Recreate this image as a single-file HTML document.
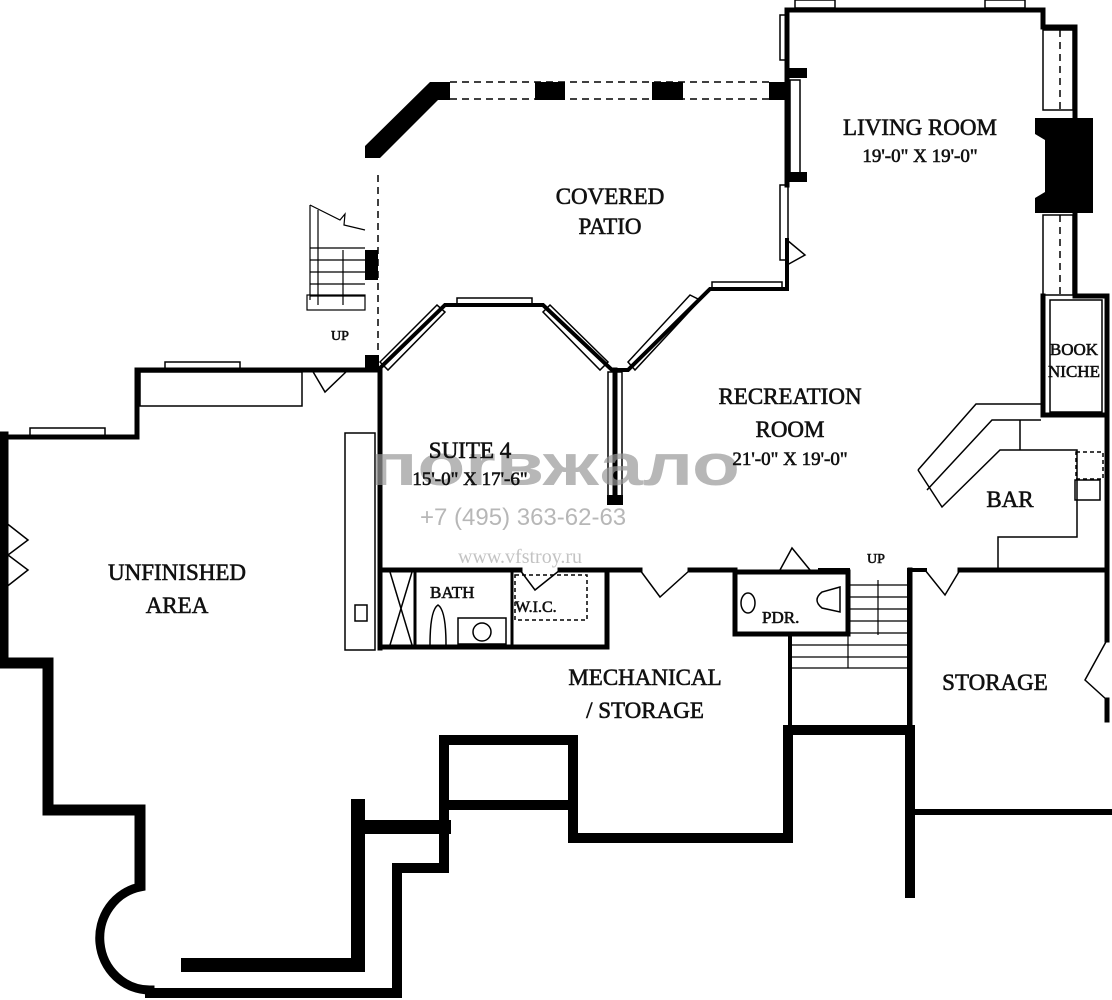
<!DOCTYPE html>
<html><head><meta charset="utf-8"><style>
html,body{margin:0;padding:0;background:#fff;}
svg{display:block}
text{font-family:"Liberation Serif",serif;fill:#111}
.lb text{stroke:#111;stroke-width:0.6}
</style></head><body>
<svg width="1112" height="1000" viewBox="0 0 1112 1000" xmlns="http://www.w3.org/2000/svg">
<g fill="none" stroke="#000" stroke-linecap="square">
<polyline points="3,437 3,663 48,663 48,810 140,810 140,885" stroke-width="11"/>
<polyline points="3,437 137,437 137,370 378,370" stroke-width="5"/>
<path d="M140,887 A50,52 0 0 0 150,990" stroke-width="9"/>
<polyline points="188,965 358,965 358,806" stroke-width="14"/>
<polyline points="358,827 444,827" stroke-width="14"/>
<polyline points="150,993 397,993 397,868 444,868 444,740 573,740 573,838 788,838 788,730 910,730 910,893" stroke-width="10"/>
<line x1="444" y1="805" x2="570" y2="805" stroke-width="10"/>
<line x1="910" y1="812" x2="1112" y2="812" stroke-width="6"/>
<line x1="910" y1="570" x2="910" y2="730" stroke-width="5"/>
<line x1="1107" y1="570" x2="1107" y2="640" stroke-width="5"/>
<line x1="1107" y1="700" x2="1107" y2="720" stroke-width="5"/>
<line x1="380" y1="370" x2="380" y2="648" stroke-width="5"/>
<polyline points="380,570 520,570" stroke-width="5"/>
<polyline points="560,570 640,570" stroke-width="5"/>
<polyline points="690,570 735,570" stroke-width="5"/>
<polyline points="820,570 848,570" stroke-width="4"/>
<polyline points="909,570 925,570" stroke-width="4"/>
<polyline points="960,570 1107,570" stroke-width="5"/>
<polyline points="380,647 607,647 607,570" stroke-width="5"/>
<line x1="415" y1="572" x2="415" y2="645" stroke-width="3"/>
<line x1="512" y1="572" x2="512" y2="645" stroke-width="3"/>
<rect x="735" y="572" width="113" height="62" stroke-width="5"/>
<line x1="790" y1="634" x2="790" y2="723" stroke-width="4"/>
<line x1="909" y1="570" x2="909" y2="723" stroke-width="4"/>
<polyline points="378,370 445,305 543,305 612,370 628,370 710,289 787,289 787,240" stroke-width="4"/>
<line x1="787" y1="185" x2="787" y2="10" stroke-width="5"/>
<polyline points="787,10 1043,10 1043,27 1075,27 1075,296 1107,296 1107,570" stroke-width="5"/>
<polyline points="1043,296 1043,415 1107,415" stroke-width="5"/>
<line x1="615" y1="370" x2="615" y2="500" stroke-width="5"/>
</g>
<g fill="none" stroke="#000" stroke-width="1.5">
<rect x="345" y="433" width="30" height="217"/>
<rect x="140" y="372" width="162" height="34"/>
<rect x="355" y="605" width="12" height="16"/>
<line x1="390" y1="572" x2="412" y2="645"/><line x1="412" y1="572" x2="390" y2="645"/>
<rect x="458" y="618" width="48" height="26"/><circle cx="482" cy="632" r="9"/>
<path d="M430,645 Q430,610 438,605 Q446,610 446,645"/>
<rect x="515" y="575" width="72" height="45" stroke-dasharray="4,3"/>
<ellipse cx="748" cy="603" rx="7" ry="10"/>
<path d="M840,587 L822,592 Q812,600 822,608 L840,612 Z"/>
<g stroke-width="1.2">
<line x1="848" y1="585" x2="909" y2="585"/><line x1="848" y1="597" x2="909" y2="597"/><line x1="848" y1="609" x2="909" y2="609"/><line x1="848" y1="621" x2="909" y2="621"/><line x1="848" y1="633" x2="909" y2="633"/><line x1="790" y1="645" x2="909" y2="645"/><line x1="790" y1="657" x2="909" y2="657"/><line x1="790" y1="668" x2="909" y2="668"/>
<line x1="878" y1="580" x2="878" y2="635"/><line x1="848" y1="635" x2="848" y2="668"/>
<line x1="310" y1="248" x2="365" y2="248"/><line x1="310" y1="260" x2="365" y2="260"/><line x1="310" y1="272" x2="365" y2="272"/><line x1="310" y1="284" x2="365" y2="284"/><line x1="310" y1="296" x2="365" y2="296"/>
<rect x="307" y="295" width="58" height="15"/>
<line x1="310" y1="205" x2="310" y2="300"/><line x1="318" y1="210" x2="318" y2="305"/><line x1="343" y1="250" x2="343" y2="305"/>
<polyline points="310,205 340,220 345,214 344,225 365,230"/>
</g>
<rect x="30" y="428" width="75" height="8"/><rect x="165" y="362" width="75" height="8"/>
<rect x="457" y="298" width="75" height="7"/><rect x="712" y="282" width="70" height="7"/>
<rect x="780" y="15" width="8" height="45"/><rect x="780" y="185" width="8" height="75"/>
<rect x="790" y="80" width="10" height="95"/>
<rect x="795" y="0" width="40" height="8"/><rect x="985" y="0" width="40" height="8"/>
<rect x="1043" y="30" width="30" height="80"/><rect x="1043" y="215" width="30" height="80"/>
<rect x="1050" y="300" width="52" height="112"/>
<polygon points="380,362 437,305 445,312 388,370"/>
<polygon points="550,305 608,362 600,370 543,312"/>
<polygon points="628,362 690,295 700,300 635,370"/>
<rect x="608" y="372" width="14" height="125"/>
<polyline points="918,470 976,404 1041,404"/>
<polyline points="918,470 942,507 1000,450 1077,450 1077,537 998,537 998,570"/>
<polyline points="927,490 992,420 1041,420"/>
<line x1="1020" y1="420" x2="1020" y2="450"/>
<rect x="1075" y="480" width="25" height="20"/>
<rect x="1076" y="452" width="27" height="27" stroke-dasharray="4,3"/>
<polyline points="312,370 325,392 348,370"/>
<polyline points="5,522 28,540 8,555 28,570 5,588"/>
<polyline points="1107,640 1085,680 1107,700"/>
<polyline points="640,570 660,597 690,570"/>
<polyline points="780,570 792,548 810,570"/>
<polyline points="925,570 945,595 960,570"/>
<polyline points="520,570 535,590 560,570"/>
<polyline points="787,240 805,255 787,265"/>
</g>
<g stroke="#000" stroke-width="1.5" stroke-dasharray="7,5" fill="none">
<line x1="450" y1="82" x2="770" y2="82"/><line x1="450" y1="99" x2="770" y2="99"/>
<line x1="378" y1="175" x2="378" y2="360"/>
<line x1="1060" y1="30" x2="1060" y2="110"/><line x1="1060" y1="215" x2="1060" y2="295"/>
</g>
<g fill="#000">
<polygon points="430,82 450,82 450,100 438,100 380,158 365,158 365,146"/>
<rect x="535" y="82" width="30" height="18"/><rect x="652" y="82" width="31" height="18"/><rect x="769" y="82" width="18" height="18"/>
<rect x="365" y="250" width="13" height="30"/><rect x="365" y="355" width="14" height="15"/>
<rect x="787" y="68" width="20" height="10"/><rect x="787" y="172" width="20" height="10"/>
<path d="M1035,118 L1093,118 L1093,213 L1035,213 L1035,198 L1045,192 L1045,140 L1035,134 Z"/>
<rect x="607" y="495" width="16" height="10"/>
</g>
<g fill="#aaa" opacity="0.7">
<text x="370" y="485" font-size="58" font-weight="bold" textLength="370" lengthAdjust="spacingAndGlyphs" style="font-family:'Liberation Sans',sans-serif;fill:#999">поrвжало</text>
<text x="420" y="525" font-size="24" style="font-family:'Liberation Sans',sans-serif;fill:#999">+7 (495) 363-62-63</text>
<text x="458" y="563" font-size="20" style="font-family:'Liberation Serif',serif;fill:#aaa">www.vfstroy.ru</text>
</g>
<g font-size="23" class="lb">
<text x="920" y="135" text-anchor="middle">LIVING ROOM</text>
<text x="920" y="162" text-anchor="middle" font-size="19">19'-0" X 19'-0"</text>
<text x="610" y="204" text-anchor="middle">COVERED</text>
<text x="610" y="234" text-anchor="middle">PATIO</text>
<text x="1074" y="355" font-size="17" text-anchor="middle">BOOK</text>
<text x="1074" y="377" font-size="17" text-anchor="middle">NICHE</text>
<text x="790" y="404" text-anchor="middle">RECREATION</text>
<text x="790" y="437" text-anchor="middle">ROOM</text>
<text x="790" y="465" text-anchor="middle" font-size="19">21'-0" X 19'-0"</text>
<text x="470" y="458" text-anchor="middle">SUITE 4</text>
<text x="470" y="485" text-anchor="middle" font-size="19">15'-0" X 17'-6"</text>
<text x="1010" y="507" text-anchor="middle">BAR</text>
<text x="177" y="580" text-anchor="middle">UNFINISHED</text>
<text x="177" y="613" text-anchor="middle">AREA</text>
<text x="430" y="598" font-size="17">BATH</text>
<text x="515" y="612" font-size="16">W.I.C.</text>
<text x="762" y="623" font-size="17">PDR.</text>
<text x="645" y="685" text-anchor="middle">MECHANICAL</text>
<text x="645" y="718" text-anchor="middle">/ STORAGE</text>
<text x="995" y="690" text-anchor="middle">STORAGE</text>
<text x="340" y="340" text-anchor="middle" font-size="14">UP</text>
<text x="876" y="563" text-anchor="middle" font-size="14">UP</text>
</g>
</svg>
</body></html>
